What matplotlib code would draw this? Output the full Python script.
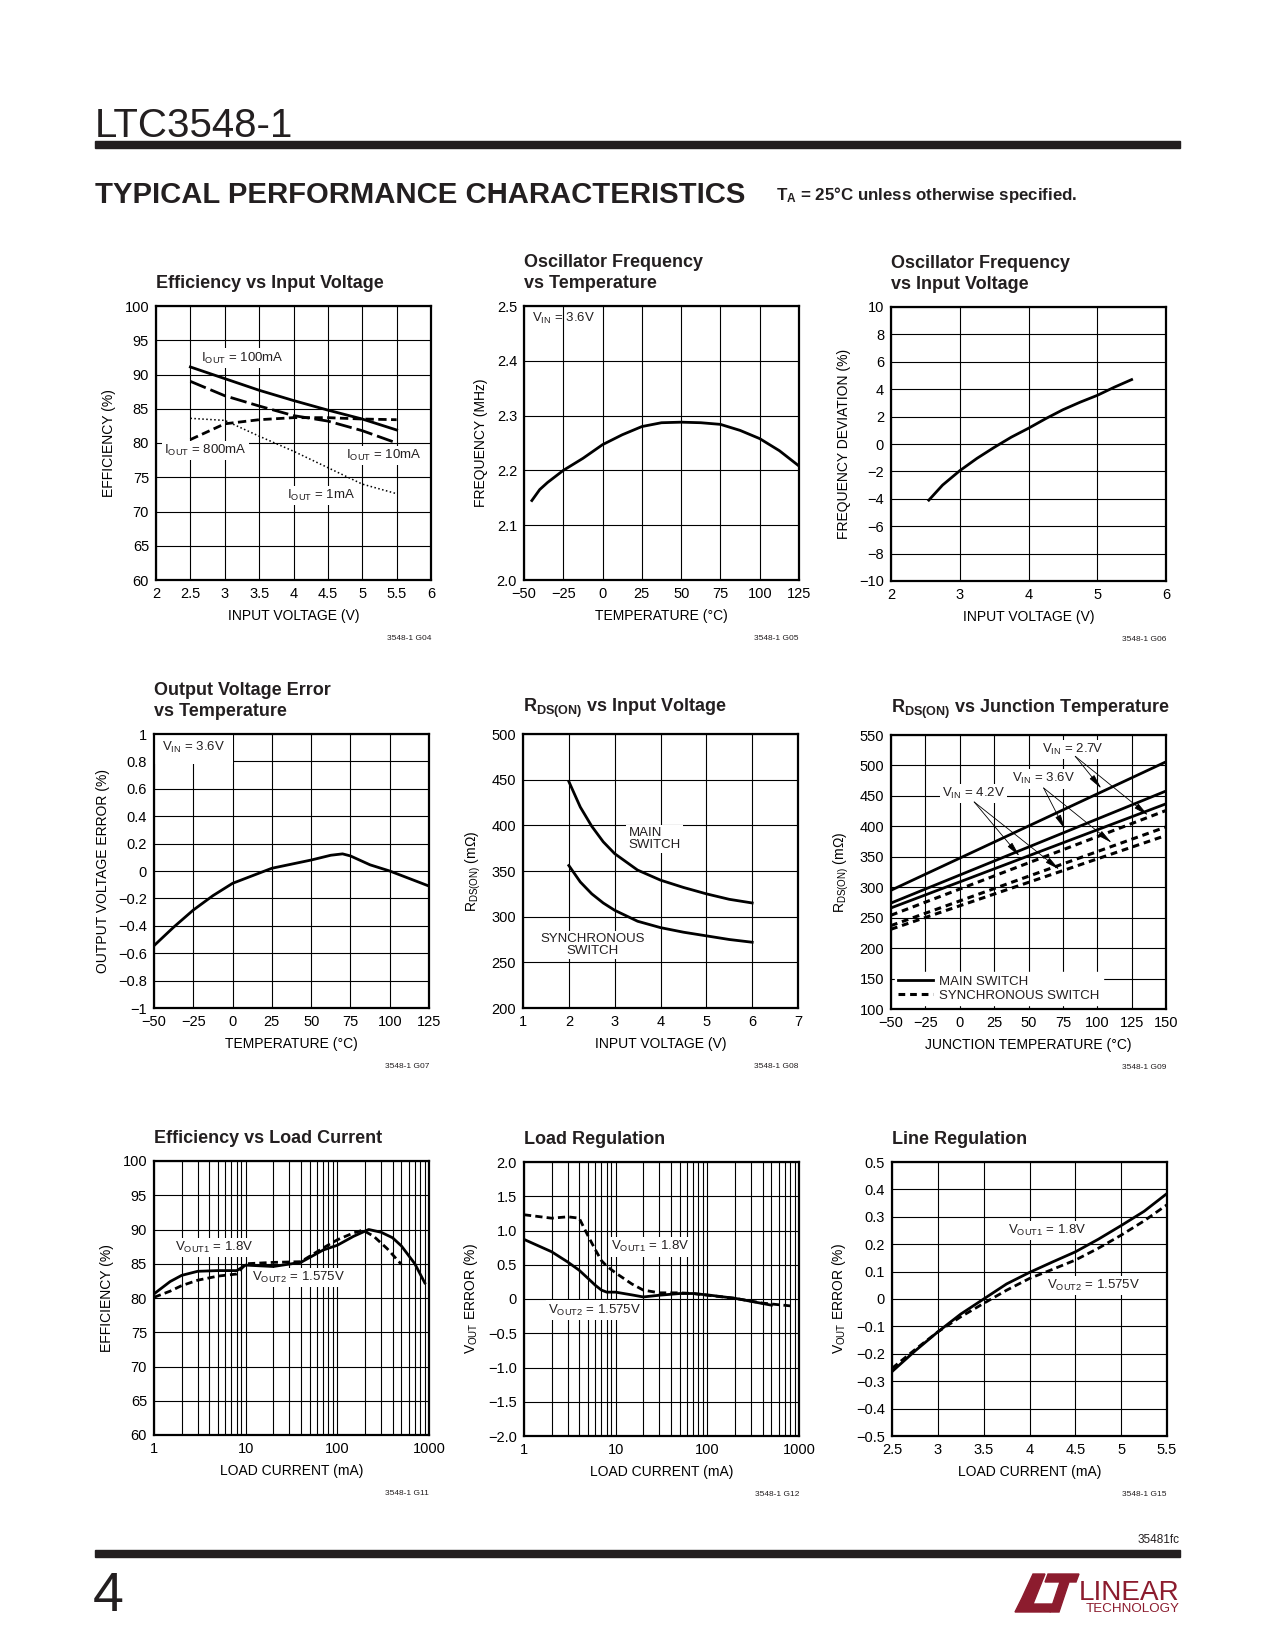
import numpy as np
import matplotlib
matplotlib.use("Agg")
import matplotlib.pyplot as plt
from matplotlib.patches import Rectangle, Polygon
from matplotlib.lines import Line2D
from matplotlib.ticker import LogLocator, NullFormatter

plt.rcParams['font.family'] = ['Liberation Sans Narrow', 'Liberation Sans', 'DejaVu Sans']
plt.rcParams['text.color'] = '#231f20'

# ---------------- data ----------------
# G04 efficiency vs input voltage
vin_g04 = [2.5, 3.0, 3.5, 4.0, 4.5, 5.0, 5.5]
eff_100ma = [91.1, 89.4, 87.7, 86.2, 84.8, 83.5, 81.9]
eff_10ma = [89.0, 86.9, 85.4, 84.0, 83.2, 81.8, 80.0]
eff_800ma = [80.5, 82.8, 83.4, 83.7, 83.7, 83.5, 83.4]
eff_1ma = [83.6, 83.3, 81.0, 78.8, 76.4, 74.0, 72.6]

# G05 oscillator frequency vs temperature
temp_g05 = [-45, -40, -35, -25, -12.5, 0, 12.5, 25, 37.5, 50, 62.5, 75, 87.5, 100, 112.5, 125]
freq_g05 = [2.145, 2.165, 2.178, 2.200, 2.222, 2.247, 2.265, 2.280, 2.287, 2.288, 2.287, 2.284,
            2.273, 2.258, 2.236, 2.208]

# G06 frequency deviation vs input voltage
vin_g06 = [2.55, 2.75, 3.0, 3.25, 3.5, 3.75, 4.0, 4.25, 4.5, 4.75, 5.0, 5.25, 5.5]
dev_g06 = [-4.1, -3.0, -1.95, -1.05, -0.25, 0.5, 1.15, 1.85, 2.5, 3.05, 3.55, 4.15, 4.7]

# G07 output voltage error vs temperature
temp_g07 = [-50, -37.5, -25, -12.5, 0, 12.5, 25, 37.5, 50, 62.5, 70, 75, 87.5, 100, 112.5, 125]
err_g07 = [-0.545, -0.41, -0.285, -0.18, -0.09, -0.035, 0.02, 0.05, 0.08, 0.115, 0.125, 0.11,
           0.045, 0.0, -0.055, -0.11]

# G08 RDS(ON) vs input voltage
vin_g08 = [2.0, 2.25, 2.5, 2.75, 3.0, 3.5, 4.0, 4.5, 5.0, 5.5, 6.0]
rds_main_g08 = [448, 420, 399, 382, 369, 351, 340, 332, 325, 319, 315]
rds_sync_g08 = [356, 338, 325, 315, 307, 295, 288, 283, 279, 275, 272]

# G09 RDS(ON) vs junction temperature
tj_g09 = [-50, 150]
main_27v = [295, 506]
main_36v = [274, 458]
main_42v = [266, 437]
sync_27v = [254, 426]
sync_36v = [237, 399]
sync_42v = [231, 385]

# G11 efficiency vs load current
iload_g11_1 = [1, 1.5, 2, 3, 5, 8, 10, 20, 40, 70, 100, 150, 220, 300, 400, 500, 700, 900]
eff_g11_1 = [80.6, 82.4, 83.3, 83.9, 84.0, 84.0, 84.8, 84.6, 85.2, 87.0, 87.7, 89.0, 90.0,
             89.6, 88.8, 87.6, 85.0, 82.2]
iload_g11_2 = [1, 1.5, 2, 3, 5, 8, 10, 20, 40, 70, 100, 150, 190, 250, 350, 500]
eff_g11_2 = [80.1, 81.0, 81.8, 82.6, 83.2, 83.5, 85.0, 85.2, 85.3, 87.3, 88.5, 89.5, 89.9,
             89.0, 87.2, 84.9]

# G12 load regulation
iload_g12_1 = [1, 2, 3, 4, 5, 6, 7, 8, 10, 15, 20, 30, 50, 70, 100, 200, 400, 800]
err_g12_1 = [1.23, 1.18, 1.20, 1.18, 0.92, 0.72, 0.56, 0.48, 0.38, 0.22, 0.13, 0.09, 0.09,
             0.08, 0.055, 0.01, -0.06, -0.10]
iload_g12_2 = [1, 2, 3, 4, 5, 6, 7, 8, 10, 15, 20, 30, 50, 70, 100, 200, 500]
err_g12_2 = [0.87, 0.69, 0.54, 0.42, 0.30, 0.20, 0.13, 0.10, 0.10, 0.06, 0.03, 0.055, 0.08,
             0.08, 0.06, 0.01, -0.09]

# G15 line regulation
vin_g15 = [2.5, 2.75, 3.0, 3.25, 3.5, 3.75, 4.0, 4.25, 4.5, 4.75, 5.0, 5.25, 5.5]
err_g15_1 = [-0.265, -0.19, -0.12, -0.055, 0.0, 0.055, 0.097, 0.135, 0.172, 0.218, 0.268,
             0.32, 0.385]
err_g15_2 = [-0.253, -0.185, -0.12, -0.065, -0.016, 0.032, 0.075, 0.108, 0.142, 0.185, 0.233,
             0.285, 0.344]

# tick labels
M = '\u2212'
xt_vin6 = ['2', '2.5', '3', '3.5', '4', '4.5', '5', '5.5', '6']
yt_eff = ['60', '65', '70', '75', '80', '85', '90', '95', '100']
xt_temp = [M + '50', M + '25', '0', '25', '50', '75', '100', '125']
yt_freq = ['2.0', '2.1', '2.2', '2.3', '2.4', '2.5']
xt_vin_int = ['2', '3', '4', '5', '6']
yt_dev = [M + '10', M + '8', M + '6', M + '4', M + '2', '0', '2', '4', '6', '8', '10']
yt_err = [M + '1', M + '0.8', M + '0.6', M + '0.4', M + '0.2', '0', '0.2', '0.4', '0.6', '0.8', '1']
xt_vin7 = ['1', '2', '3', '4', '5', '6', '7']
yt_rds = ['200', '250', '300', '350', '400', '450', '500']
xt_tj = [M + '50', M + '25', '0', '25', '50', '75', '100', '125', '150']
yt_rds2 = ['100', '150', '200', '250', '300', '350', '400', '450', '500', '550']
xt_load = ['1', '10', '100', '1000']
yt_reg = [M + '2.0', M + '1.5', M + '1.0', M + '0.5', '0', '0.5', '1.0', '1.5', '2.0']
xt_line = ['2.5', '3', '3.5', '4', '4.5', '5', '5.5']
yt_line = [M + '0.5', M + '0.4', M + '0.3', M + '0.2', M + '0.1', '0', '0.1', '0.2', '0.3', '0.4', '0.5']

W, H = 1275, 1650
fig = plt.figure(figsize=(W / 100, H / 100), dpi=100)
fig.patch.set_facecolor('white')

# page overlay in pixel coordinates
page = fig.add_axes([0, 0, 1, 1])
page.set_xlim(0, W)
page.set_ylim(H, 0)
page.axis('off')
page.patch.set_alpha(0)

renderer = fig.canvas.get_renderer()


def fit_text(x, y, s, width, **kw):
    t = page.text(x, y, s, **kw)
    w = t.get_window_extent(renderer).width
    t.set_fontsize(t.get_fontsize() * width / w)
    return t


def px_axes(left, top, w=275, h=274):
    return fig.add_axes([left / W, 1 - (top + h) / H, w / W, h / H])


def setup(ax, xlim, ylim, xticks, xlabels, yticks, ylabels, xlabel, ylabel, code, title, log=False):
    if log:
        ax.set_xscale('log')
    ax.set_xlim(xlim)
    ax.set_ylim(ylim)
    ax.set_xticks(xticks, xlabels)
    ax.set_yticks(yticks, ylabels)
    if log:
        ax.xaxis.set_minor_locator(LogLocator(base=10, subs=np.arange(2, 10)))
        ax.xaxis.set_minor_formatter(NullFormatter())
    ax.grid(True, which='both' if log else 'major', color='black', lw=0.8)
    ax.set_axisbelow(True)
    ax.tick_params(which='both', length=0, labelsize=10.5, pad=5)
    for sp in ax.spines.values():
        sp.set_linewidth(1.6)
        sp.set_zorder(6)
    ax.set_xlabel(xlabel, fontsize=10, labelpad=6)
    ax.set_ylabel(ylabel, fontsize=10, labelpad=6)
    ax.text(1.0, -0.215, code, transform=ax.transAxes, ha='right', va='center', fontsize=6)
    ax.text(0, 1.05, title, transform=ax.transAxes, ha='left', va='bottom', fontsize=13,
            fontweight='bold', linespacing=1.35)


def label(ax, x, y, s, box=True, **kw):
    bb = dict(facecolor='white', edgecolor='none', pad=1.5) if box else None
    ax.text(x, y, s, fontsize=9.5, va='center', bbox=bb, zorder=3, **kw)


LW = 2.0
DASH = (0, (2.6, 1.5))

# ---------------- header / footer ----------------
page.text(95, 137, 'LTC3548-1', fontsize=29, va='baseline', ha='left')
page.add_patch(Rectangle((95, 141), 1085, 7, color='#231f20'))
fit_text(95, 203, 'TYPICAL PERFORMANCE CHARACTERISTICS', 650, fontsize=24, fontweight='heavy',
         va='baseline', ha='left')
fit_text(776, 200, r'$\mathregular{T_A}$ = 25°C unless otherwise specified.', 302, fontsize=12,
         fontweight='bold', va='baseline', ha='left')
page.text(1180, 1543, '35481fc', fontsize=8.5, ha='right', va='baseline')
page.add_patch(Rectangle((95, 1550), 1085, 7, color='#231f20'))
page.text(93, 1611, '4', fontsize=40, va='baseline', ha='left')
red = '#8c1c2e'
page.add_patch(Polygon([(1033, 1574), (1045, 1574), (1033, 1604), (1053, 1604), (1050, 1612),
                        (1015, 1612), (1022, 1598)], color=red))
page.add_patch(Polygon([(1048, 1574), (1079, 1574), (1076, 1582), (1069, 1582), (1059, 1612),
                        (1050, 1612), (1060, 1582), (1045, 1582)], color=red))
fit_text(1079, 1600, 'LINEAR', 101, fontsize=24, color=red, va='baseline', ha='left')
fit_text(1086, 1612, 'TECHNOLOGY', 94, fontsize=7, color=red, va='baseline', ha='left')

# ---------------- G04 ----------------
ax = px_axes(156, 306)
setup(ax, (2, 6), (60, 100), np.arange(2, 6.01, 0.5), xt_vin6, np.arange(60, 101, 5), yt_eff,
      'INPUT VOLTAGE (V)', 'EFFICIENCY (%)', '3548-1 G04', 'Efficiency vs Input Voltage')
ax.plot(vin_g04, eff_100ma, color='k', lw=LW, zorder=4)
ax.plot(vin_g04, eff_10ma, color='k', lw=LW, ls=(0, (6, 1.8)), zorder=4)
ax.plot(vin_g04, eff_800ma, color='k', lw=LW, ls=(0, (3, 1.6)), zorder=4)
ax.plot(vin_g04, eff_1ma, color='k', lw=1.1, ls=(0, (1, 1.6)), zorder=4)
label(ax, 2.66, 92.4, r'$\mathregular{I_{OUT}}$ = 100mA')
label(ax, 2.12, 78.9, r'$\mathregular{I_{OUT}}$ = 800mA')
label(ax, 4.77, 78.2, r'$\mathregular{I_{OUT}}$ = 10mA')
label(ax, 3.91, 72.3, r'$\mathregular{I_{OUT}}$ = 1mA')

# ---------------- G05 ----------------
ax = px_axes(524, 306)
setup(ax, (-50, 125), (2.0, 2.5), np.arange(-50, 126, 25), xt_temp, np.arange(2.0, 2.51, 0.1),
      yt_freq, 'TEMPERATURE (°C)', 'FREQUENCY (MHz)', '3548-1 G05',
      'Oscillator Frequency\nvs Temperature')
ax.plot(temp_g05, freq_g05, color='k', lw=LW, zorder=4)
label(ax, -45, 2.478, r'$\mathregular{V_{IN}}$ = 3.6V', box=False)

# ---------------- G06 ----------------
ax = px_axes(891, 307)
setup(ax, (2, 6), (-10, 10), np.arange(2, 7, 1), xt_vin_int, np.arange(-10, 11, 2), yt_dev,
      'INPUT VOLTAGE (V)', 'FREQUENCY DEVIATION (%)', '3548-1 G06',
      'Oscillator Frequency\nvs Input Voltage')
ax.plot(vin_g06, dev_g06, color='k', lw=LW, zorder=4)

# ---------------- G07 ----------------
ax = px_axes(154, 734)
setup(ax, (-50, 125), (-1, 1), np.arange(-50, 126, 25), xt_temp, np.linspace(-1, 1, 11), yt_err,
      'TEMPERATURE (°C)', 'OUTPUT VOLTAGE ERROR (%)', '3548-1 G07',
      'Output Voltage Error\nvs Temperature')
ax.plot(temp_g07, err_g07, color='k', lw=LW, zorder=4)
ax.text(-45, 0.9, r'$\mathregular{V_{IN}}$ = 3.6V', fontsize=9.5, va='center', zorder=3,
        bbox=dict(facecolor='white', edgecolor='none', pad=6))

# ---------------- G08 ----------------
ax = px_axes(523, 734)
setup(ax, (1, 7), (200, 500), np.arange(1, 8, 1), xt_vin7, np.arange(200, 501, 50), yt_rds,
      'INPUT VOLTAGE (V)', r'$\mathregular{R_{DS(ON)}}$ (m$\mathregular{\Omega}$)', '3548-1 G08',
      r'$\mathregular{R_{DS(ON)}}$ vs Input Voltage')
ax.plot(vin_g08, rds_main_g08, color='k', lw=LW, zorder=4)
ax.plot(vin_g08, rds_sync_g08, color='k', lw=LW, zorder=4)
label(ax, 3.3, 385, 'MAIN\nSWITCH', linespacing=1.0)
label(ax, 2.52, 269, 'SYNCHRONOUS\nSWITCH', ha='center', linespacing=1.0)

# ---------------- G09 ----------------
ax = px_axes(891, 735)
setup(ax, (-50, 150), (100, 550), np.arange(-50, 151, 25), xt_tj, np.arange(100, 551, 50), yt_rds2,
      'JUNCTION TEMPERATURE (°C)', r'$\mathregular{R_{DS(ON)}}$ (m$\mathregular{\Omega}$)',
      '3548-1 G09', r'$\mathregular{R_{DS(ON)}}$ vs Junction Temperature')
for ys in (main_27v, main_36v, main_42v):
    ax.plot(tj_g09, ys, color='k', lw=LW, zorder=4)
for ys in (sync_27v, sync_36v, sync_42v):
    ax.plot(tj_g09, ys, color='k', lw=2.2, ls=(0, (2.2, 1.6)), zorder=4)
arrow = dict(arrowstyle='-|>,head_length=0.9,head_width=0.18', color='k', lw=0.6,
             mutation_scale=10, shrinkA=0, shrinkB=0)
for start, ends in [((84, 515), [(103, 462), (137, 418)]),
                    ((61, 463), [(76.5, 395), (110.5, 373)]),
                    ((10.5, 440), [(43.5, 351), (72.5, 329)])]:
    for end in ends:
        ax.annotate('', xy=end, xytext=start, arrowprops=arrow, zorder=5)
ax.text(82, 526, r'$\mathregular{V_{IN}}$ = 2.7V', fontsize=9.5, ha='center', va='center', zorder=3,
        bbox=dict(facecolor='white', edgecolor='none', pad=1.5))
ax.text(61, 478, r'$\mathregular{V_{IN}}$ = 3.6V', fontsize=9.5, ha='center', va='center', zorder=3,
        bbox=dict(facecolor='white', edgecolor='none', pad=1.5))
ax.text(10, 454, r'$\mathregular{V_{IN}}$ = 4.2V', fontsize=9.5, ha='center', va='center', zorder=3,
        bbox=dict(facecolor='white', edgecolor='none', pad=1.5))
handles = [Line2D([], [], color='k', lw=LW), Line2D([], [], color='k', lw=2.2, ls=(0, (2.2, 1.6)))]
leg = ax.legend(handles, ['MAIN SWITCH', 'SYNCHRONOUS SWITCH'], loc='lower left', fontsize=9.5,
                frameon=True, framealpha=1, edgecolor='white', fancybox=False, handlelength=2.6,
                borderpad=0.25, labelspacing=0.15, handletextpad=0.5, borderaxespad=0.3)
leg.set_zorder(5)

# ---------------- G11 ----------------
ax = px_axes(154, 1161)
setup(ax, (1, 1000), (60, 100), [1, 10, 100, 1000], xt_load, np.arange(60, 101, 5), yt_eff,
      'LOAD CURRENT (mA)', 'EFFICIENCY (%)', '3548-1 G11', 'Efficiency vs Load Current', log=True)
ax.plot(iload_g11_1, eff_g11_1, color='k', lw=LW, zorder=4)
ax.plot(iload_g11_2, eff_g11_2, color='k', lw=LW, ls=DASH, zorder=4)
label(ax, 1.69, 87.4, r'$\mathregular{V_{OUT1}}$ = 1.8V')
label(ax, 11.6, 83.0, r'$\mathregular{V_{OUT2}}$ = 1.575V')

# ---------------- G12 ----------------
ax = px_axes(524, 1162)
setup(ax, (1, 1000), (-2, 2), [1, 10, 100, 1000], xt_load, np.arange(-2, 2.01, 0.5), yt_reg,
      'LOAD CURRENT (mA)', r'$\mathregular{V_{OUT}}$ ERROR (%)', '3548-1 G12', 'Load Regulation',
      log=True)
ax.plot(iload_g12_1, err_g12_1, color='k', lw=LW, ls=DASH, zorder=4)
ax.plot(iload_g12_2, err_g12_2, color='k', lw=LW, zorder=4)
label(ax, 9.0, 0.76, r'$\mathregular{V_{OUT1}}$ = 1.8V')
label(ax, 1.84, -0.16, r'$\mathregular{V_{OUT2}}$ = 1.575V')

# ---------------- G15 ----------------
ax = px_axes(892, 1162)
setup(ax, (2.5, 5.5), (-0.5, 0.5), np.arange(2.5, 5.51, 0.5), xt_line, np.linspace(-0.5, 0.5, 11),
      yt_line, 'LOAD CURRENT (mA)', r'$\mathregular{V_{OUT}}$ ERROR (%)', '3548-1 G15',
      'Line Regulation')
ax.plot(vin_g15, err_g15_1, color='k', lw=LW, zorder=4)
ax.plot(vin_g15, err_g15_2, color='k', lw=LW, ls=DASH, zorder=4)
label(ax, 3.76, 0.25, r'$\mathregular{V_{OUT1}}$ = 1.8V')
label(ax, 4.19, 0.05, r'$\mathregular{V_{OUT2}}$ = 1.575V')

fig.savefig('out.png', dpi=100)
